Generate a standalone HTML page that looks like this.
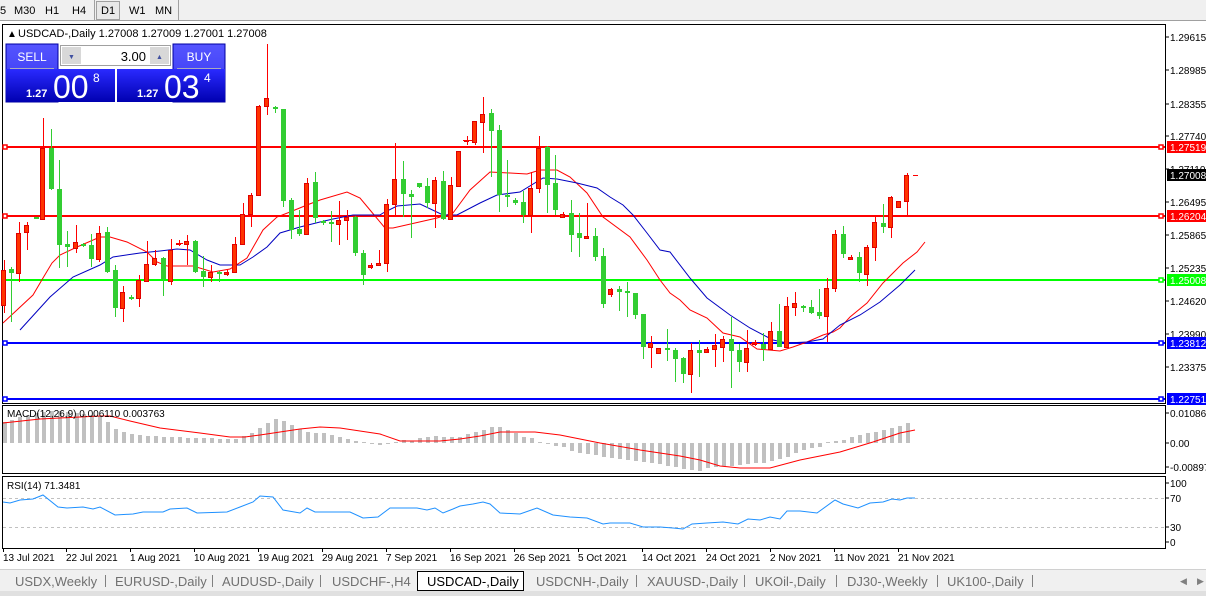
<!DOCTYPE html>
<html><head><meta charset="utf-8"><style>
html,body{margin:0;padding:0;background:#fff;}
svg{display:block;font-family:"Liberation Sans",sans-serif;}
</style></head><body>
<svg width="1206" height="596" viewBox="0 0 1206 596" xmlns="http://www.w3.org/2000/svg">
<!-- toolbar -->
<rect x="0" y="0" width="1206" height="21" fill="#f0f0f0"/>
<line x1="0" y1="20.5" x2="1206" y2="20.5" stroke="#a0a0a0"/>
<g font-size="11" fill="#000">
<text x="0" y="14">5</text><text x="14" y="14">M30</text><text x="45" y="14">H1</text><text x="72" y="14">H4</text>
<rect x="96.5" y="1.5" width="23" height="18" fill="#e8e8e8" stroke="#a0a0a0"/>
<text x="101" y="14">D1</text><text x="129" y="14">W1</text><text x="155" y="14">MN</text>
</g>
<line x1="94.5" y1="0" x2="94.5" y2="20" stroke="#a0a0a0"/>
<line x1="178.5" y1="0" x2="178.5" y2="20" stroke="#a0a0a0"/>

<!-- frames -->
<rect x="2.5" y="24.5" width="1163" height="379" fill="#fff" stroke="#000"/>
<rect x="2.5" y="405.5" width="1163" height="68" fill="#fff" stroke="#000"/>
<rect x="2.5" y="476.5" width="1163" height="72" fill="#fff" stroke="#000"/>

<!-- header -->
<text x="7" y="37" font-size="10">▲</text>
<text x="18" y="37" font-size="11">USDCAD-,Daily  1.27008 1.27009 1.27001 1.27008</text>

<!-- horizontal lines -->
<g stroke-width="2">
<line x1="3" y1="147" x2="1165" y2="147" stroke="#ff0000"/>
<line x1="3" y1="216" x2="1165" y2="216" stroke="#ff0000"/>
<line x1="3" y1="280" x2="1165" y2="280" stroke="#00ff00"/>
<line x1="3" y1="343" x2="1165" y2="343" stroke="#0000ff"/>
<line x1="3" y1="399" x2="1165" y2="399" stroke="#0000ff"/>
</g>
<g fill="#fff" stroke-width="1.5">
<rect x="3" y="145" width="4" height="4" stroke="#f00"/><rect x="1159" y="145" width="4" height="4" stroke="#f00"/>
<rect x="3" y="214" width="4" height="4" stroke="#f00"/><rect x="1159" y="214" width="4" height="4" stroke="#f00"/>
<rect x="1159" y="278" width="4" height="4" stroke="#0f0"/>
<rect x="3" y="341" width="4" height="4" stroke="#00f"/><rect x="1159" y="341" width="4" height="4" stroke="#00f"/>
<rect x="3" y="397" width="4" height="4" stroke="#00f"/><rect x="1159" y="397" width="4" height="4" stroke="#00f"/>
</g>

<!-- MAs -->
<polyline fill="none" stroke="#ff0000" stroke-width="1" points="3,323 33,295 43,278 52,263 60,255 77,247 100,237 110,237 127,242 147,252 157,262 167,266 193,266 213,272 230,269 247,258 263,230 277,217 290,212 307,205 320,200 347,192 360,198 370,210 385,228 393,228 437,218 453,213 470,190 490,172 510,173 527,174 540,170 557,170 570,177 587,193 603,217 630,237 647,260 660,280 670,293 680,300 690,310 707,318 723,333 740,337 757,349 780,351 793,347 807,342 823,335 833,332 840,328 850,317 867,303 883,283 903,263 917,252 925,242"/>
<polyline fill="none" stroke="#0000c0" stroke-width="1" points="20,330 50,297 73,277 100,265 113,257 140,253 160,251 177,249 190,250 207,260 220,265 240,265 253,257 267,247 280,233 300,227 320,222 333,219 353,215 380,215 383,213 397,206 420,204 443,215 457,215 480,203 497,195 520,192 543,178 557,179 577,183 597,188 610,197 623,205 633,215 647,233 660,250 670,252 690,278 707,298 730,315 750,328 773,340 787,343 807,342 823,339 840,325 860,315 880,302 900,285 915,270"/>

<!-- candles -->
<g id="c">
<!-- generated list: x wickTop wickBot bodyTop bodyBot -->
</g>
<g stroke-width="1">
<!-- red = r, green = g -->
<g fill="#ff3300" stroke="#e00000">
<rect x="1.5" y="270.5" width="4" height="35"/><rect x="16.5" y="233.5" width="4" height="40"/><rect x="24.5" y="225.5" width="4" height="7"/><rect x="40.5" y="148.5" width="4" height="71"/><rect x="73.5" y="242.5" width="4" height="6"/><rect x="96.5" y="233.5" width="4" height="26"/><rect x="120.5" y="292.5" width="4" height="16"/><rect x="136.5" y="280.5" width="4" height="18"/><rect x="144.5" y="264.5" width="4" height="17"/><rect x="152.5" y="258.5" width="4" height="6"/><rect x="168.5" y="250.5" width="4" height="31"/><rect x="176.5" y="243.5" width="4" height="1"/><rect x="184.5" y="241.5" width="4" height="3"/><rect x="208.5" y="272.5" width="4" height="5"/><rect x="224.5" y="272.5" width="4" height="2"/><rect x="232.5" y="244.5" width="4" height="28"/><rect x="240.5" y="214.5" width="4" height="30"/><rect x="248.5" y="195.5" width="4" height="19"/><rect x="256.5" y="106.5" width="4" height="89"/><rect x="264.5" y="98.5" width="4" height="8"/><rect x="304.5" y="183.5" width="4" height="51"/><rect x="336.5" y="220.5" width="4" height="4"/><rect x="344.5" y="217.5" width="4" height="3"/><rect x="368.5" y="265.5" width="4" height="2"/><rect x="376.5" y="263.5" width="4" height="2"/><rect x="384.5" y="204.5" width="4" height="59"/><rect x="392.5" y="179.5" width="4" height="25"/><rect x="432.5" y="180.5" width="4" height="23"/><rect x="448.5" y="185.5" width="4" height="34"/><rect x="456.5" y="151.5" width="4" height="35"/><rect x="464.5" y="140.5" width="4" height="1"/><rect x="472.5" y="121.5" width="4" height="21"/><rect x="480.5" y="114.5" width="4" height="8"/><rect x="528.5" y="188.5" width="4" height="27"/><rect x="536.5" y="148.5" width="4" height="40"/><rect x="560.5" y="214.5" width="4" height="3"/><rect x="584.5" y="236.5" width="4" height="2"/><rect x="608.5" y="289.5" width="4" height="5"/><rect x="648.5" y="343.5" width="4" height="4"/><rect x="656.5" y="348.5" width="4" height="5"/><rect x="688.5" y="350.5" width="4" height="24"/><rect x="704.5" y="349.5" width="4" height="3"/><rect x="712.5" y="345.5" width="4" height="4"/><rect x="720.5" y="339.5" width="4" height="8"/><rect x="744.5" y="348.5" width="4" height="14"/><rect x="752.5" y="342.5" width="4" height="2"/><rect x="768.5" y="331.5" width="4" height="18"/><rect x="784.5" y="306.5" width="4" height="41"/><rect x="792.5" y="303.5" width="4" height="4"/><rect x="824.5" y="288.5" width="4" height="28"/><rect x="832.5" y="234.5" width="4" height="54"/><rect x="848.5" y="257.5" width="4" height="2"/><rect x="864.5" y="247.5" width="4" height="27"/><rect x="872.5" y="222.5" width="4" height="25"/><rect x="888.5" y="197.5" width="4" height="30"/><rect x="896.5" y="201.5" width="4" height="6"/><rect x="904.5" y="175.5" width="4" height="26"/>
</g>
<g stroke="#ff0000">
<path d="M4.5 260V270M4.5 306V313M19.5 222V233M19.5 274V282M27.5 222V225M27.5 233V250M43.5 118V148M43.5 220V220M76.5 225V242M76.5 249V253M99.5 226V233M99.5 260V262M123.5 286V292M123.5 309V322M139.5 275V280M139.5 299V307M147.5 241V264M155.5 250V258M155.5 265V266M171.5 239V250M171.5 282V285M179.5 240V246M176 243.5H183M187.5 235V241M187.5 245V265M211.5 265V272M211.5 278V282M227.5 270V276M235.5 237V244M243.5 203V214M251.5 193V195M251.5 215V227M259.5 105V106M267.5 44V98M267.5 107V115M307.5 178V183M339.5 201V220M339.5 225V245M347.5 210V217M347.5 221V240M371.5 263V269M379.5 250V263M387.5 199V204M387.5 264V272M395.5 143V179M395.5 205V217M435.5 177V180M435.5 204V228M451.5 177V185M467.5 136V145M463 140.5H472M475.5 142V145M483.5 97V114M483.5 123V153M531.5 172V188M531.5 216V233M539.5 136V148M539.5 189V193M563.5 212V218M587.5 203V236M611.5 288V297M651.5 336V343M651.5 348V368M691.5 343V350M691.5 375V393M707.5 347V353M715.5 334V345M715.5 350V367M723.5 336V339M723.5 348V362M747.5 330V348M747.5 363V372M755.5 340V346M751 343.5H760M771.5 322V331M787.5 297V306M795.5 292V303M795.5 308V316M827.5 278V288M827.5 317V342M835.5 230V234M835.5 289V292M851.5 255V260M867.5 245V247M867.5 275V286M875.5 217V222M875.5 248V261M891.5 196V197M891.5 228V238M907.5 173V175M907.5 202V215M913 175.5H918"/>
</g>
<g stroke="#32cd32">
<path d="M11.5 267V322M51.5 129V190M59.5 160V268M67.5 231V267M83.5 243V247M91.5 234V267M107.5 227V273M115.5 265V317M131.5 295V300M163.5 257V296M195.5 240V273M203.5 256V287M219.5 271V282M275.5 106V113M283.5 109V207M291.5 198V239M299.5 210V236M315.5 172V223M323.5 220V225M331.5 211V242M355.5 216V256M363.5 250V285M403.5 161V217M411.5 190V238M419.5 183V188M427.5 178V208M443.5 171V220M491.5 109V177M499.5 125V212M507.5 160V207M515.5 198V205M523.5 191V223M547.5 146V213M555.5 155V215M571.5 200V252M579.5 213V257M595.5 228V261M603.5 248V308M619.5 286V311M627.5 282V317M635.5 293V319M643.5 314V359M667.5 329V361M675.5 348V382M683.5 357V383M699.5 340V377M731.5 317V388M739.5 344V372M763.5 333V361M779.5 304V347M803.5 305V312M811.5 300V314M819.5 289V319M843.5 226V258M859.5 252V282M883.5 204V233"/>
</g>
<g fill="#32cd32">
<rect x="9" y="269" width="5" height="4"/><rect x="34" y="217" width="5" height="2"/><rect x="49" y="148" width="5" height="41"/><rect x="57" y="189" width="5" height="56"/><rect x="65" y="244" width="5" height="3"/><rect x="81" y="244" width="5" height="2"/><rect x="89" y="245" width="5" height="14"/><rect x="105" y="232" width="5" height="40"/><rect x="113" y="270" width="5" height="38"/><rect x="129" y="297" width="5" height="2"/><rect x="161" y="258" width="5" height="21"/><rect x="193" y="241" width="5" height="31"/><rect x="201" y="271" width="5" height="6"/><rect x="217" y="272" width="5" height="2"/><rect x="273" y="107" width="5" height="2"/><rect x="281" y="109" width="5" height="92"/><rect x="289" y="200" width="5" height="30"/><rect x="297" y="229" width="5" height="5"/><rect x="313" y="182" width="5" height="36"/><rect x="321" y="221" width="5" height="2"/><rect x="329" y="222" width="5" height="2"/><rect x="353" y="217" width="5" height="36"/><rect x="361" y="253" width="5" height="22"/><rect x="401" y="179" width="5" height="15"/><rect x="409" y="194" width="5" height="3"/><rect x="417" y="183" width="5" height="4"/><rect x="425" y="186" width="5" height="17"/><rect x="441" y="181" width="5" height="38"/><rect x="489" y="113" width="5" height="18"/><rect x="497" y="130" width="5" height="65"/><rect x="505" y="195" width="5" height="2"/><rect x="513" y="200" width="5" height="3"/><rect x="521" y="202" width="5" height="13"/><rect x="545" y="147" width="5" height="38"/><rect x="553" y="183" width="5" height="27"/><rect x="569" y="213" width="5" height="22"/><rect x="577" y="233" width="5" height="5"/><rect x="593" y="236" width="5" height="21"/><rect x="601" y="256" width="5" height="48"/><rect x="617" y="289" width="5" height="3"/><rect x="625" y="291" width="5" height="2"/><rect x="633" y="293" width="5" height="22"/><rect x="641" y="314" width="5" height="33"/><rect x="665" y="348" width="5" height="2"/><rect x="673" y="350" width="5" height="9"/><rect x="681" y="358" width="5" height="16"/><rect x="697" y="350" width="5" height="3"/><rect x="729" y="339" width="5" height="12"/><rect x="737" y="350" width="5" height="12"/><rect x="761" y="344" width="5" height="5"/><rect x="777" y="331" width="5" height="16"/><rect x="801" y="306" width="5" height="2"/><rect x="809" y="307" width="5" height="6"/><rect x="817" y="312" width="5" height="4"/><rect x="841" y="234" width="5" height="20"/><rect x="857" y="257" width="5" height="16"/><rect x="881" y="223" width="5" height="4"/>
</g>
</g>

<!-- MACD histogram -->
<g fill="#c0c0c0">
<rect x="3" y="422" width="4" height="21"/><rect x="10" y="420" width="4" height="23"/><rect x="18" y="417" width="4" height="26"/><rect x="26" y="415" width="4" height="28"/><rect x="35" y="413" width="4" height="30"/><rect x="42" y="412" width="4" height="31"/><rect x="50" y="411" width="4" height="32"/><rect x="58" y="411" width="4" height="32"/><rect x="66" y="412" width="4" height="31"/><rect x="75" y="413" width="4" height="30"/><rect x="82" y="414" width="4" height="29"/><rect x="90" y="415" width="4" height="28"/><rect x="98" y="416" width="4" height="27"/><rect x="106" y="422" width="4" height="21"/><rect x="114" y="429" width="4" height="14"/><rect x="122" y="432" width="4" height="11"/><rect x="130" y="434" width="4" height="9"/><rect x="138" y="435" width="4" height="8"/><rect x="146" y="436" width="4" height="7"/><rect x="154" y="436" width="4" height="7"/><rect x="162" y="437" width="4" height="6"/><rect x="170" y="437" width="4" height="6"/><rect x="178" y="437" width="4" height="6"/><rect x="186" y="438" width="4" height="5"/><rect x="194" y="438" width="4" height="5"/><rect x="202" y="438" width="4" height="5"/><rect x="210" y="438" width="4" height="5"/><rect x="218" y="439" width="4" height="4"/><rect x="226" y="439" width="4" height="4"/><rect x="234" y="439" width="4" height="4"/><rect x="242" y="436" width="4" height="7"/><rect x="250" y="433" width="4" height="10"/><rect x="258" y="428" width="4" height="15"/><rect x="266" y="423" width="4" height="20"/><rect x="274" y="419" width="4" height="24"/><rect x="282" y="421" width="4" height="22"/><rect x="290" y="425" width="4" height="18"/><rect x="298" y="429" width="4" height="14"/><rect x="306" y="432" width="4" height="11"/><rect x="314" y="433" width="4" height="10"/><rect x="322" y="433" width="4" height="10"/><rect x="330" y="435" width="4" height="8"/><rect x="338" y="437" width="4" height="6"/><rect x="346" y="439" width="4" height="4"/><rect x="354" y="441" width="4" height="2"/><rect x="362" y="442" width="4" height="1"/><rect x="370" y="443" width="4" height="1"/><rect x="378" y="443" width="4" height="2"/><rect x="386" y="443" width="4" height="1"/><rect x="394" y="442" width="4" height="1"/><rect x="402" y="440" width="4" height="3"/><rect x="410" y="441" width="4" height="2"/><rect x="418" y="438" width="4" height="5"/><rect x="426" y="437" width="4" height="6"/><rect x="434" y="436" width="4" height="7"/><rect x="442" y="437" width="4" height="6"/><rect x="450" y="437" width="4" height="6"/><rect x="458" y="437" width="4" height="6"/><rect x="466" y="434" width="4" height="9"/><rect x="474" y="432" width="4" height="11"/><rect x="482" y="430" width="4" height="13"/><rect x="490" y="427" width="4" height="16"/><rect x="498" y="427" width="4" height="16"/><rect x="506" y="430" width="4" height="13"/><rect x="514" y="433" width="4" height="10"/><rect x="522" y="437" width="4" height="6"/><rect x="530" y="438" width="4" height="5"/><rect x="538" y="442" width="4" height="1"/><rect x="546" y="443" width="4" height="1"/><rect x="554" y="443" width="4" height="3"/><rect x="562" y="443" width="4" height="4"/><rect x="570" y="443" width="4" height="8"/><rect x="578" y="443" width="4" height="10"/><rect x="586" y="443" width="4" height="11"/><rect x="594" y="443" width="4" height="12"/><rect x="602" y="443" width="4" height="14"/><rect x="610" y="443" width="4" height="15"/><rect x="618" y="443" width="4" height="16"/><rect x="626" y="443" width="4" height="17"/><rect x="634" y="443" width="4" height="18"/><rect x="642" y="443" width="4" height="19"/><rect x="650" y="443" width="4" height="20"/><rect x="658" y="443" width="4" height="21"/><rect x="666" y="443" width="4" height="23"/><rect x="674" y="443" width="4" height="24"/><rect x="682" y="443" width="4" height="26"/><rect x="690" y="443" width="4" height="27"/><rect x="698" y="443" width="4" height="28"/><rect x="706" y="443" width="4" height="25"/><rect x="714" y="443" width="4" height="24"/><rect x="722" y="443" width="4" height="23"/><rect x="730" y="443" width="4" height="23"/><rect x="738" y="443" width="4" height="22"/><rect x="746" y="443" width="4" height="21"/><rect x="754" y="443" width="4" height="20"/><rect x="762" y="443" width="4" height="20"/><rect x="770" y="443" width="4" height="18"/><rect x="778" y="443" width="4" height="16"/><rect x="786" y="443" width="4" height="14"/><rect x="794" y="443" width="4" height="10"/><rect x="802" y="443" width="4" height="7"/><rect x="810" y="443" width="4" height="5"/><rect x="818" y="443" width="4" height="4"/><rect x="826" y="442" width="4" height="1"/><rect x="834" y="441" width="4" height="2"/><rect x="842" y="440" width="4" height="3"/><rect x="850" y="437" width="4" height="6"/><rect x="858" y="435" width="4" height="8"/><rect x="866" y="433" width="4" height="10"/><rect x="874" y="432" width="4" height="11"/><rect x="882" y="430" width="4" height="13"/><rect x="890" y="428" width="4" height="15"/><rect x="898" y="426" width="4" height="17"/><rect x="906" y="423" width="4" height="20"/>
</g>
<polyline fill="none" stroke="#ff0000" stroke-width="1" points="3,423 40,419 100,416 110,416 130,421 160,428 200,433 230,437 245,437 260,435 280,432 300,429 320,427 340,428 360,431 380,434 400,441 440,441 460,439 480,436 500,432 535,432 560,435 600,443 640,450 680,456 700,460 720,466 740,468 770,468 800,460 840,452 873,442 900,433 915,430"/>
<text x="7" y="417" font-size="10">MACD(12,26,9) 0.006110 0.003763</text>

<!-- RSI -->
<g stroke="#c0c0c0" stroke-dasharray="3,3"><line x1="3" y1="498.5" x2="1165" y2="498.5"/><line x1="3" y1="527.5" x2="1165" y2="527.5"/></g>
<polyline fill="none" stroke="#1e90ff" stroke-width="1" points="3,502 10,503 20,500 33,499 43,495 58,507 67,508 83,507 93,509 100,507 115,515 133,514 143,512 163,512 170,509 187,508 197,513 227,512 240,507 253,502 260,496 273,497 283,510 300,513 307,508 315,512 350,512 363,518 378,517 390,508 400,508 417,508 427,510 435,508 443,513 453,509 460,506 473,504 483,502 490,504 500,513 520,514 537,508 553,515 570,517 587,518 603,524 610,523 630,523 643,527 660,527 673,528 683,529 692,524 707,523 723,522 738,524 748,519 760,520 770,517 780,519 787,511 800,511 817,513 835,500 843,504 858,508 870,503 883,502 892,499 900,500 907,498 915,498"/>
<text x="7" y="489" font-size="10">RSI(14) 71.3481</text>

<!-- right axis -->
<g font-size="10" fill="#000">
<g stroke="#000"><path d="M1165 37h4M1165 70h4M1165 104h4M1165 136h4M1165 169h4M1165 202h4M1165 235h4M1165 268h4M1165 301h4M1165 334h4M1165 367h4M1165 413h4M1165 443h4M1165 467h4M1165 483h4M1165 498h4M1165 527h4M1165 542h4"/></g>
<text x="1170" y="41">1.29615</text><text x="1170" y="74">1.28985</text><text x="1170" y="108">1.28355</text><text x="1170" y="140">1.27740</text><text x="1170" y="173">1.27110</text><text x="1170" y="206">1.26495</text><text x="1170" y="239">1.25865</text><text x="1170" y="272">1.25235</text><text x="1170" y="305">1.24620</text><text x="1170" y="338">1.23990</text><text x="1170" y="371">1.23375</text>
<text x="1170" y="417">0.010869</text><text x="1170" y="447">0.00</text><text x="1170" y="471">-0.008974</text>
<text x="1170" y="487">100</text><text x="1170" y="502">70</text><text x="1170" y="531">30</text><text x="1170" y="546">0</text>
</g>
<g font-size="10" fill="#fff">
<rect x="1167" y="141" width="39" height="12" fill="#ff0000"/><text x="1170" y="151">1.27519</text>
<rect x="1167" y="169" width="39" height="12" fill="#000"/><text x="1170" y="179">1.27008</text>
<rect x="1167" y="210" width="39" height="12" fill="#ff0000"/><text x="1170" y="220">1.26204</text>
<rect x="1167" y="274" width="39" height="12" fill="#00ff00"/><text x="1170" y="284">1.25008</text>
<rect x="1167" y="337" width="39" height="12" fill="#0000ff"/><text x="1170" y="347">1.23812</text>
<rect x="1167" y="393" width="39" height="12" fill="#0000ff"/><text x="1170" y="403">1.22751</text>
</g>

<!-- date axis -->
<g stroke="#000"><path d="M3.5 548v4M66.5 548v4M130.5 548v4M194.5 548v4M258.5 548v4M322.5 548v4M386.5 548v4M450.5 548v4M514.5 548v4M578.5 548v4M642.5 548v4M706.5 548v4M770.5 548v4M834.5 548v4M898.5 548v4"/></g>
<g font-size="10" fill="#000">
<text x="3" y="561">13 Jul 2021</text><text x="66" y="561">22 Jul 2021</text><text x="130" y="561">1 Aug 2021</text><text x="194" y="561">10 Aug 2021</text><text x="258" y="561">19 Aug 2021</text><text x="322" y="561">29 Aug 2021</text><text x="386" y="561">7 Sep 2021</text><text x="450" y="561">16 Sep 2021</text><text x="514" y="561">26 Sep 2021</text><text x="578" y="561">5 Oct 2021</text><text x="642" y="561">14 Oct 2021</text><text x="706" y="561">24 Oct 2021</text><text x="770" y="561">2 Nov 2021</text><text x="834" y="561">11 Nov 2021</text><text x="898" y="561">21 Nov 2021</text>
</g>

<!-- tabs -->
<rect x="0" y="569" width="1206" height="27" fill="#f0f0f0"/>
<line x1="0" y1="569.5" x2="1206" y2="569.5" stroke="#d0d0d0"/>
<rect x="0" y="591" width="1206" height="5" fill="#e0e0e0"/>
<rect x="417.5" y="571.5" width="106" height="19" fill="#fff" stroke="#000"/>
<g font-size="13" fill="#707070">
<text x="15" y="586">USDX,Weekly</text><text x="115" y="586">EURUSD-,Daily</text><text x="222" y="586">AUDUSD-,Daily</text><text x="332" y="586">USDCHF-,H4</text>
<text x="427" y="586" fill="#000">USDCAD-,Daily</text>
<text x="536" y="586">USDCNH-,Daily</text><text x="647" y="586">XAUUSD-,Daily</text><text x="755" y="586">UKOil-,Daily</text><text x="847" y="586">DJ30-,Weekly</text><text x="947" y="586">UK100-,Daily</text>
</g>
<g stroke="#808080"><path d="M105.5 575v12M212.5 575v12M320.5 575v12M636.5 575v12M744.5 575v12M836.5 575v12M937.5 575v12M1032.5 575v12"/></g>
<text x="1180" y="584" font-size="9" fill="#808080">◀</text><text x="1197" y="584" font-size="9" fill="#808080">▶</text>

<!-- trade panel -->
<defs>
<linearGradient id="gb" x1="0" y1="0" x2="0" y2="1"><stop offset="0" stop-color="#5555ff"/><stop offset="1" stop-color="#3333ee"/></linearGradient>
<linearGradient id="gd" x1="0" y1="0" x2="0" y2="1"><stop offset="0" stop-color="#2a2aff"/><stop offset="1" stop-color="#0000b0"/></linearGradient>
</defs>
<rect x="6" y="44" width="52" height="58" fill="url(#gb)" stroke="#0000a0"/>
<rect x="173" y="44" width="52" height="58" fill="url(#gb)" stroke="#0000a0"/>
<rect x="6" y="69" width="109" height="33" fill="url(#gd)"/>
<rect x="117" y="69" width="108" height="33" fill="url(#gd)"/>
<line x1="10" y1="68.5" x2="54" y2="68.5" stroke="#aab"/>
<line x1="177" y1="68.5" x2="221" y2="68.5" stroke="#aab"/>
<rect x="60.5" y="45.5" width="110" height="20" fill="#fff" stroke="#a0a0a0"/>
<rect x="62" y="47" width="19" height="17" fill="#d8d8d8"/>
<rect x="150" y="47" width="19" height="17" fill="#d8d8d8"/>
<text x="68" y="59" font-size="7" fill="#4050a0">▼</text><text x="156" y="59" font-size="7" fill="#4050a0">▲</text>
<text x="146" y="61" font-size="13" fill="#000" text-anchor="end">3.00</text>
<text x="32" y="61" font-size="12" fill="#fff" text-anchor="middle">SELL</text>
<text x="199" y="61" font-size="12" fill="#fff" text-anchor="middle">BUY</text>
<g fill="#fff">
<text x="26" y="97" font-size="11" font-weight="bold">1.27</text><text x="53" y="98" font-size="32">00</text><text x="93" y="82" font-size="12">8</text>
<text x="137" y="97" font-size="11" font-weight="bold">1.27</text><text x="164" y="98" font-size="32">03</text><text x="204" y="82" font-size="12">4</text>
</g>
</svg>
</body></html>
